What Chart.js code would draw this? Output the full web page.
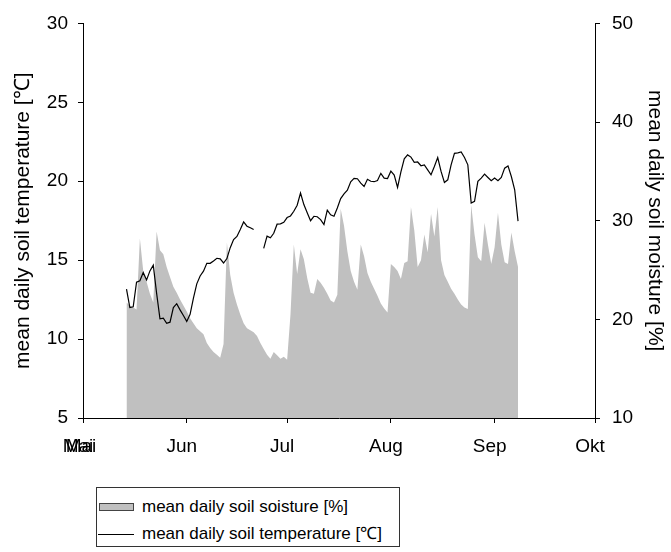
<!DOCTYPE html>
<html>
<head>
<meta charset="utf-8">
<script src="https://cdn.jsdelivr.net/npm/chart.js@4.4.1/dist/chart.umd.min.js"></script>
<style>
    html, body { margin: 0; padding: 0; background: #fff; }
    #wrap { position: relative; width: 671px; height: 552px; }
    #legend {
        position: absolute; left: 96px; top: 487px; width: 304px; height: 60px;
        border: 1px solid #333; box-sizing: border-box; background: #fff;
        font-family: "Liberation Sans", Arial, Helvetica, sans-serif; font-size: 17px; color: #000;
    }
    .row { position: absolute; left: 0; height: 20px; line-height: 20px; white-space: nowrap; }
    .row span.txt { position: absolute; left: 45px; }
    .swatch { position: absolute; left: 2px; top: 6px; width: 35px; height: 8px; background: #c0c0c0; border: 1px solid #444; box-sizing: border-box; }
    .lineKey { position: absolute; left: 1px; top: 10px; width: 36px; height: 0; border-top: 1px solid #000; }
</style>
</head>
<body>
<div id="wrap">
    <canvas id="soilChart" width="671" height="552"></canvas>
    <div id="legend">
        <div class="row" style="top: 9px;"><span class="swatch"></span><span class="txt">mean daily soil soisture [%]</span></div>
        <div class="row" style="top: 36px;"><span class="lineKey"></span><span class="txt">mean daily soil temperature [℃]</span></div>
    </div>
</div>
<script>
// days counted from 1 May; first value is 14 May
const startDay = 13;
const months = ['Mai', 'Jun', 'Jul', 'Aug', 'Sep', 'Okt'];
const monthStarts = [0, 31, 61, 92, 123, 153];

// mean daily soil moisture [%]
const moisture = [
    21.7, 21.4, 21.2, 21.0, 28.2, 24.9, 23.8, 22.6, 21.7, 28.9,
    27.0, 26.6, 25.3, 24.3, 23.3, 22.7, 22.0, 21.4, 20.8, 20.1,
    19.6, 19.1, 18.8, 18.5, 17.6, 17.1, 16.7, 16.4, 16.1, 17.5,
    27.8, 24.5, 22.7, 21.5, 20.5, 19.6, 19.1, 18.9, 18.7, 18.3,
    17.6, 17.0, 16.4, 16.0, 16.7, 16.35, 16.0, 16.2, 15.9, 20.5,
    27.6, 24.6, 27.1, 26.1, 24.2, 22.7, 22.6, 24.1, 23.7, 23.2,
    22.6, 21.9, 21.7, 22.5, 31.2, 29.5, 26.9, 24.9, 23.8, 23.0,
    27.6, 26.4, 24.7, 23.8, 23.1, 22.4, 21.6, 21.1, 20.7, 25.6,
    25.3, 24.9, 24.1, 25.7, 25.9, 31.4, 29.0, 25.3, 26.0, 28.6,
    26.8, 30.7, 28.4, 31.4, 26.0, 24.5, 23.8, 23.1, 22.6, 22.0,
    21.5, 21.2, 21.05, 31.6, 28.6, 26.3, 25.9, 29.8, 27.6, 25.6,
    27.3, 30.8, 27.6, 25.8, 25.6, 28.8, 26.9, 25.3
];

// mean daily soil temperature [°C], null = no measurement
const temperature = [
    13.17, 12.0, 12.05, 13.6, 13.69, 14.21, 13.75, 14.32, 14.68, 12.9,
    11.28, 11.33, 11.0, 11.07, 12.0, 12.24, 11.85, 11.49, 11.12, 11.57,
    12.6, 13.5, 14.0, 14.3, 14.8, 14.8, 14.95, 15.12, 15.08, 14.82,
    15.1, 15.79, 16.3, 16.5, 16.94, 17.42, 17.15, 17.05, 16.94, null,
    null, 15.75, 16.52, 16.42, 16.7, 17.28, 17.3, 17.4, 17.7, 17.8,
    18.1, 18.48, 19.25, 18.52, 18.0, 17.5, 17.78, 17.75, 17.57, 17.26,
    18.17, 17.87, 17.78, 18.31, 18.9, 19.2, 19.43, 19.97, 20.18, 20.16,
    19.88, 19.67, 20.12, 20.0, 19.97, 20.04, 20.5, 20.2, 20.17, 20.64,
    20.39, 19.61, 20.6, 21.42, 21.67, 21.53, 21.2, 21.22, 20.98, 21.04,
    20.72, 20.41, 20.93, 21.5, 20.62, 19.92, 20.09, 21.04, 21.77, 21.8,
    21.85, 21.5, 21.04, 18.62, 18.73, 19.99, 20.2, 20.45, 20.24, 20.03,
    20.2, 20.03, 20.24, 20.83, 20.97, 20.3, 19.46, 17.47
];

const fontFamily = '"Liberation Sans", Arial, Helvetica, sans-serif';
const tickFontSize = 19;
const xTickPadding = 12;
const xLabelShift = -5;

function toPoints(values) {
    return values.map(function(v, i) {
        return { x: startDay + i, y: v };
    });
}

// the reference prints the first month label twice, slightly shifted
const doubleFirstLabel = {
    id: 'doubleFirstLabel',
    afterDraw: function(chart) {
        const sx = chart.scales.x;
        const ctx = chart.ctx;
        const y = sx.top + 5 + xTickPadding + tickFontSize * 1.2 / 2;
        ctx.save();
        ctx.font = tickFontSize + 'px ' + fontFamily;
        ctx.fillStyle = '#000';
        ctx.textAlign = 'center';
        ctx.textBaseline = 'middle';
        ctx.fillText(months[0], sx.getPixelForValue(monthStarts[0]) + xLabelShift + 3, y);
        ctx.restore();
    }
};

document.addEventListener('DOMContentLoaded', function() {
    const config = {
        type: 'line',
        data: {
            datasets: [{
                label: 'mean daily soil temperature [℃]',
                data: toPoints(temperature),
                yAxisID: 'y',
                borderColor: '#000',
                borderWidth: 1.2,
                pointRadius: 0,
                fill: false,
                spanGaps: false,
                tension: 0,
                order: 0
            }, {
                label: 'mean daily soil soisture [%]',
                data: toPoints(moisture),
                yAxisID: 'y1',
                borderWidth: 0,
                borderColor: 'rgba(0,0,0,0)',
                backgroundColor: '#c0c0c0',
                fill: 'start',
                pointRadius: 0,
                tension: 0,
                order: 1
            }]
        },
        options: {
            responsive: false,
            animation: false,
            layout: { autoPadding: false, padding: { top: 19.5, left: 0, right: 0, bottom: 0 } },
            plugins: {
                legend: { display: false },
                tooltip: { enabled: false }
            },
            scales: {
                x: {
                    type: 'linear',
                    min: 0,
                    max: 153,
                    afterBuildTicks: function(scale) {
                        scale.ticks = monthStarts.map(function(v) { return { value: v }; });
                    },
                    afterFit: function(scale) { scale.height = 134; },
                    ticks: {
                        autoSkip: false,
                        maxRotation: 0,
                        padding: xTickPadding,
                        labelOffset: xLabelShift,
                        color: '#000',
                        font: { family: fontFamily, size: tickFontSize },
                        callback: function(v) { return months[monthStarts.indexOf(v)]; }
                    },
                    grid: { drawOnChartArea: false, tickLength: 5, color: '#000' },
                    border: { color: '#000', width: 1 }
                },
                y: {
                    position: 'left',
                    min: 5,
                    max: 30,
                    afterFit: function(scale) { scale.width = 83; },
                    ticks: {
                        stepSize: 5,
                        padding: 10,
                        color: '#000',
                        font: { family: fontFamily, size: tickFontSize }
                    },
                    grid: { drawOnChartArea: false, tickLength: 5, color: '#000' },
                    border: { color: '#000', width: 1 },
                    title: {
                        display: true,
                        text: 'mean daily soil temperature [℃]',
                        color: '#000',
                        font: { family: fontFamily, size: 21 },
                        padding: { top: 11, bottom: 0 }
                    }
                },
                y1: {
                    position: 'right',
                    min: 10,
                    max: 50,
                    afterFit: function(scale) { scale.width = 76; },
                    ticks: {
                        stepSize: 10,
                        padding: 12,
                        color: '#000',
                        font: { family: fontFamily, size: tickFontSize }
                    },
                    grid: { drawOnChartArea: false, tickLength: 5, color: '#000' },
                    border: { color: '#000', width: 1 },
                    title: {
                        display: true,
                        text: 'mean daily soil moisture [%]',
                        color: '#000',
                        font: { family: fontFamily, size: 21 },
                        padding: { top: 4, bottom: 0 }
                    }
                }
            }
        },
        plugins: [doubleFirstLabel]
    };
    new Chart(document.getElementById('soilChart'), config);
});
</script>
</body>
</html>
